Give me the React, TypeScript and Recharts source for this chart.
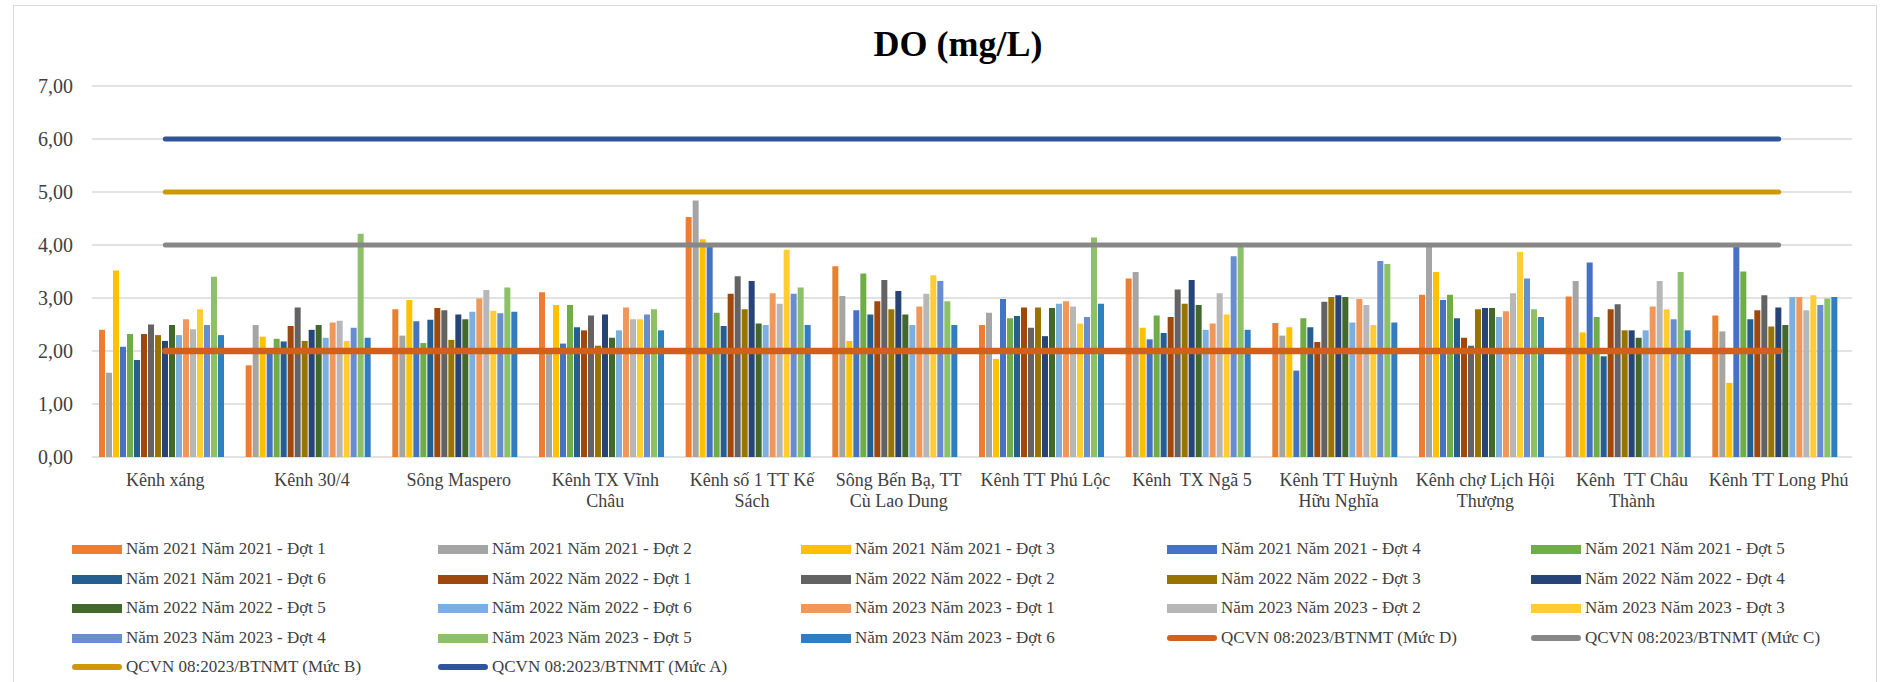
import { ComposedChart, Bar, Line, XAxis, YAxis, CartesianGrid } from 'recharts'

const FONT = '"Liberation Serif", "Times New Roman", serif'

const categories = [
  'Kênh xáng',
  'Kênh 30/4',
  'Sông Maspero',
  'Kênh TX Vĩnh Châu',
  'Kênh số 1 TT Kế Sách',
  'Sông Bến Bạ, TT Cù Lao Dung',
  'Kênh TT Phú Lộc',
  'Kênh  TX Ngã 5',
  'Kênh TT Huỳnh Hữu Nghĩa',
  'Kênh chợ Lịch Hội Thượng',
  'Kênh  TT Châu Thành',
  'Kênh TT Long Phú',
]

// how Excel wrapped the category labels
const categoryLines = [
  ['Kênh xáng'],
  ['Kênh 30/4'],
  ['Sông Maspero'],
  ['Kênh TX Vĩnh', 'Châu'],
  ['Kênh số 1 TT Kế', 'Sách'],
  ['Sông Bến Bạ, TT', 'Cù Lao Dung'],
  ['Kênh TT Phú Lộc'],
  ['Kênh  TX Ngã 5'],
  ['Kênh TT Huỳnh', 'Hữu Nghĩa'],
  ['Kênh chợ Lịch Hội', 'Thượng'],
  ['Kênh  TT Châu', 'Thành'],
  ['Kênh TT Long Phú'],
]

const yTicks = [0, 1, 2, 3, 4, 5, 6, 7]

const nam2021Dot1 = [2.4, 1.73, 2.79, 3.11, 4.53, 3.6, 2.49, 3.37, 2.53, 3.06, 3.03, 2.67]
const nam2021Dot2 = [1.59, 2.49, 2.29, 2.02, 4.84, 3.04, 2.72, 3.49, 2.29, 4.0, 3.32, 2.37]
const nam2021Dot3 = [3.52, 2.27, 2.96, 2.87, 4.11, 2.19, 1.85, 2.44, 2.45, 3.49, 2.35, 1.4]
const nam2021Dot4 = [2.08, 2.0, 2.56, 2.14, 3.98, 2.77, 2.98, 2.22, 1.63, 2.96, 3.67, 3.96]
const nam2021Dot5 = [2.32, 2.23, 2.15, 2.87, 2.72, 3.46, 2.62, 2.67, 2.62, 3.06, 2.64, 3.5]
const nam2021Dot6 = [1.83, 2.18, 2.59, 2.45, 2.47, 2.69, 2.66, 2.34, 2.45, 2.62, 1.9, 2.6]
const nam2022Dot1 = [2.32, 2.47, 2.81, 2.39, 3.08, 2.94, 2.82, 2.64, 2.17, 2.25, 2.79, 2.77]
const nam2022Dot2 = [2.5, 2.82, 2.77, 2.67, 3.41, 3.34, 2.44, 3.16, 2.93, 2.1, 2.88, 3.05]
const nam2022Dot3 = [2.3, 2.19, 2.21, 2.1, 2.79, 2.79, 2.82, 2.89, 3.02, 2.79, 2.39, 2.46]
const nam2022Dot4 = [2.19, 2.4, 2.69, 2.69, 3.32, 3.13, 2.28, 3.34, 3.05, 2.81, 2.39, 2.82]
const nam2022Dot5 = [2.49, 2.49, 2.6, 2.25, 2.52, 2.69, 2.81, 2.87, 3.02, 2.81, 2.25, 2.49]
const nam2022Dot6 = [2.3, 2.25, 2.74, 2.39, 2.49, 2.49, 2.89, 2.4, 2.54, 2.64, 2.39, 3.02]
const nam2023Dot1 = [2.6, 2.54, 2.99, 2.82, 3.09, 2.84, 2.94, 2.52, 2.98, 2.75, 2.84, 3.02]
const nam2023Dot2 = [2.41, 2.57, 3.15, 2.6, 2.89, 3.08, 2.84, 3.09, 2.87, 3.09, 3.32, 2.77]
const nam2023Dot3 = [2.79, 2.19, 2.76, 2.6, 3.91, 3.43, 2.52, 2.69, 2.49, 3.87, 2.79, 3.05]
const nam2023Dot4 = [2.49, 2.44, 2.71, 2.69, 3.08, 3.32, 2.64, 3.79, 3.7, 3.37, 2.6, 2.87]
const nam2023Dot5 = [3.4, 4.21, 3.2, 2.79, 3.2, 2.94, 4.14, 3.97, 3.64, 2.79, 3.49, 2.99]
const nam2023Dot6 = [2.3, 2.25, 2.74, 2.39, 2.49, 2.49, 2.89, 2.4, 2.54, 2.64, 2.39, 3.02]

const mucD = [2, 2, 2, 2, 2, 2, 2, 2, 2, 2, 2, 2]
const mucC = [4, 4, 4, 4, 4, 4, 4, 4, 4, 4, 4, 4]
const mucB = [5, 5, 5, 5, 5, 5, 5, 5, 5, 5, 5, 5]
const mucA = [6, 6, 6, 6, 6, 6, 6, 6, 6, 6, 6, 6]

const barSeries = [
  { name: 'Năm 2021 Năm 2021 - Đợt 1', color: '#ED7D31', values: nam2021Dot1 },
  { name: 'Năm 2021 Năm 2021 - Đợt 2', color: '#A5A5A5', values: nam2021Dot2 },
  { name: 'Năm 2021 Năm 2021 - Đợt 3', color: '#FFC000', values: nam2021Dot3 },
  { name: 'Năm 2021 Năm 2021 - Đợt 4', color: '#4472C4', values: nam2021Dot4 },
  { name: 'Năm 2021 Năm 2021 - Đợt 5', color: '#70AD47', values: nam2021Dot5 },
  { name: 'Năm 2021 Năm 2021 - Đợt 6', color: '#255E91', values: nam2021Dot6 },
  { name: 'Năm 2022 Năm 2022 - Đợt 1', color: '#9E480E', values: nam2022Dot1 },
  { name: 'Năm 2022 Năm 2022 - Đợt 2', color: '#636363', values: nam2022Dot2 },
  { name: 'Năm 2022 Năm 2022 - Đợt 3', color: '#997300', values: nam2022Dot3 },
  { name: 'Năm 2022 Năm 2022 - Đợt 4', color: '#264478', values: nam2022Dot4 },
  { name: 'Năm 2022 Năm 2022 - Đợt 5', color: '#43682B', values: nam2022Dot5 },
  { name: 'Năm 2022 Năm 2022 - Đợt 6', color: '#7CAFDD', values: nam2022Dot6 },
  { name: 'Năm 2023 Năm 2023 - Đợt 1', color: '#F1975A', values: nam2023Dot1 },
  { name: 'Năm 2023 Năm 2023 - Đợt 2', color: '#B7B7B7', values: nam2023Dot2 },
  { name: 'Năm 2023 Năm 2023 - Đợt 3', color: '#FFCD33', values: nam2023Dot3 },
  { name: 'Năm 2023 Năm 2023 - Đợt 4', color: '#698ED0', values: nam2023Dot4 },
  { name: 'Năm 2023 Năm 2023 - Đợt 5', color: '#8CC168', values: nam2023Dot5 },
  { name: 'Năm 2023 Năm 2023 - Đợt 6', color: '#327DC2', values: nam2023Dot6 },
]

const lineSeries = [
  { name: 'QCVN 08:2023/BTNMT (Mức D)', color: '#D0601A', width: 6.5, values: mucD },
  { name: 'QCVN 08:2023/BTNMT (Mức C)', color: '#878787', width: 5, values: mucC },
  { name: 'QCVN 08:2023/BTNMT (Mức B)', color: '#CC9A04', width: 5, values: mucB },
  { name: 'QCVN 08:2023/BTNMT (Mức A)', color: '#2F5597', width: 5, values: mucA },
]

const data = categories.map((name, i) => {
  const row: Record<string, string | number> = { name }
  barSeries.forEach((s, k) => (row['b' + k] = s.values[i]))
  lineSeries.forEach((s, k) => (row['l' + k] = s.values[i]))
  return row
})

const CategoryTick = (props: any) => {
  const { x, y, payload } = props
  const lines = categoryLines[payload.index] ?? [payload.value]
  return (
    <text
      x={x}
      y={y + 29}
      textAnchor="middle"
      fill="#404040"
      fontSize={18}
      fontFamily={FONT}
      style={{ whiteSpace: 'pre' }}
    >
      {lines.map((l: string, i: number) => (
        <tspan key={i} x={x} dy={i === 0 ? 0 : 21}>
          {l}
        </tspan>
      ))}
    </text>
  )
}

const legendCols = [72, 438, 801, 1167, 1531]
const legendRows = [549, 579, 608, 638, 667]

function LegendBlock() {
  const items = [
    ...barSeries.map((s) => ({ name: s.name, color: s.color, line: false })),
    ...lineSeries.map((s) => ({ name: s.name, color: s.color, line: true })),
  ]
  return (
    <>
      {items.map((it, i) => {
        const left = legendCols[i % 5]
        const top = legendRows[Math.floor(i / 5)]
        return (
          <div
            key={it.name}
            style={{
              position: 'absolute',
              left,
              top: top - 11,
              height: 22,
              display: 'flex',
              alignItems: 'center',
              whiteSpace: 'nowrap',
              fontFamily: FONT,
              fontSize: 17,
              color: '#404040',
            }}
          >
            <span
              style={{
                display: 'inline-block',
                width: 50,
                height: it.line ? 6 : 9,
                borderRadius: it.line ? 3 : 0,
                background: it.color,
                marginRight: 4,
              }}
            />
            <span>{it.name}</span>
          </div>
        )
      })}
    </>
  )
}

export default function App() {
  return (
    <div
      style={{
        position: 'absolute',
        left: 0,
        top: 0,
        width: 1880,
        height: 682,
        background: '#fff',
        overflow: 'hidden',
        fontFamily: FONT,
      }}
    >
      <div
        style={{
          position: 'absolute',
          left: 13,
          top: 5,
          width: 1862,
          height: 720,
          border: '1.5px solid #D9D9D9',
        }}
      />
      <div
        style={{
          position: 'absolute',
          left: 758,
          width: 400,
          top: 24,
          textAlign: 'center',
          fontSize: 36,
          fontWeight: 'bold',
          color: '#000',
          lineHeight: '40px',
        }}
      >
        DO (mg/L)
      </div>
      <div style={{ position: 'absolute', left: 0, top: 0 }}>
        <ComposedChart
          width={1880}
          height={682}
          data={data}
          margin={{ top: 86, right: 28, bottom: 165, left: 12 }}
          barCategoryGap={7}
          barGap={1}
        >
          <CartesianGrid vertical={false} stroke="#D9D9D9" strokeWidth={1.5} />
          <XAxis
            dataKey="name"
            height={60}
            axisLine={false}
            tickLine={false}
            tickSize={0}
            tickMargin={0}
            interval={0}
            tick={(p: any) => <CategoryTick {...p} />}
          />
          <YAxis
            width={80}
            domain={[0, 7]}
            ticks={yTicks}
            axisLine={false}
            tickLine={false}
            tickSize={0}
            tickMargin={19}
            tick={{ fill: '#404040', fontSize: 20, fontFamily: FONT }}
            tickFormatter={(v: number) => v.toFixed(2).replace('.', ',')}
          />
          {barSeries.map((s, k) => (
            <Bar key={s.name} dataKey={'b' + k} name={s.name} fill={s.color} isAnimationActive={false} />
          ))}
          {lineSeries.map((s, k) => (
            <Line
              key={s.name}
              dataKey={'l' + k}
              name={s.name}
              stroke={s.color}
              strokeWidth={s.width}
              strokeLinecap="round"
              dot={false}
              activeDot={false}
              type="linear"
              isAnimationActive={false}
            />
          ))}
        </ComposedChart>
      </div>
      <LegendBlock />
    </div>
  )
}
